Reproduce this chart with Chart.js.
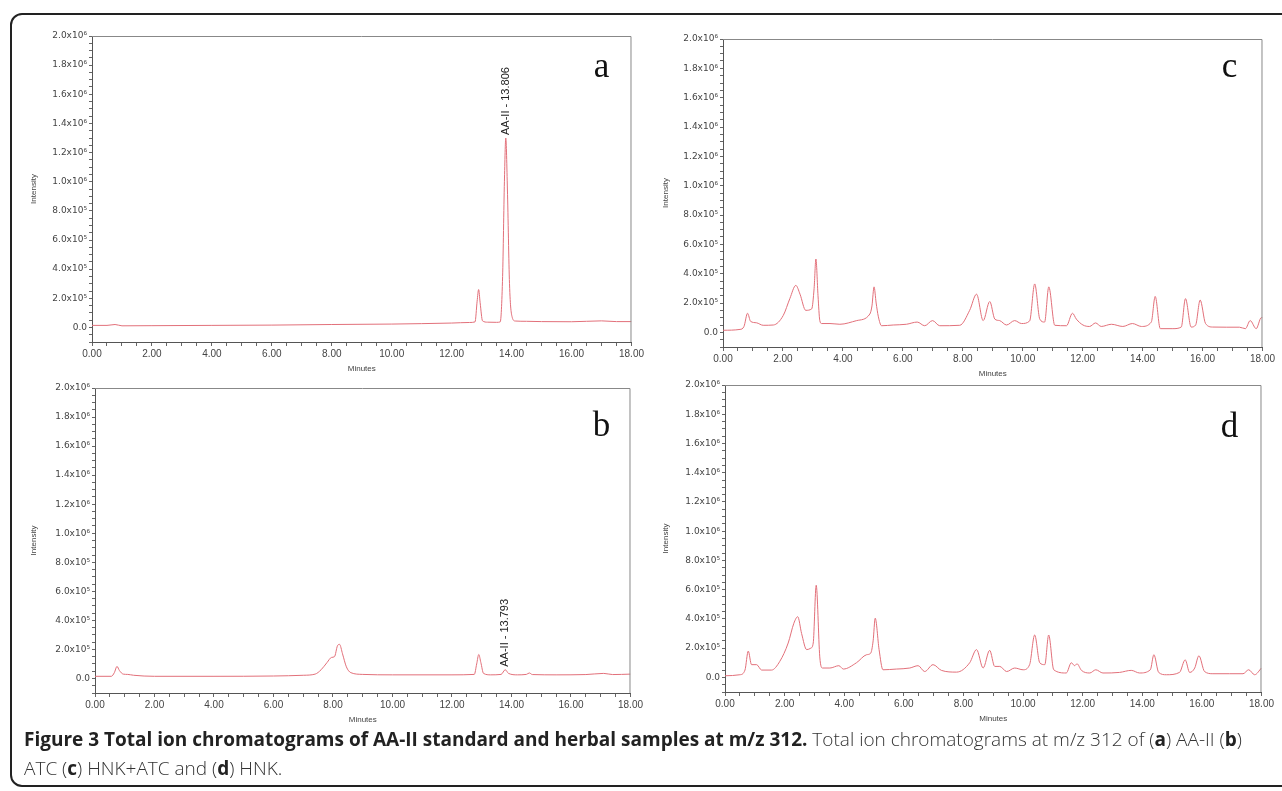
<!DOCTYPE html>
<html>
<head>
<meta charset="utf-8">
<script src="https://cdn.jsdelivr.net/npm/chart.js@4.4.0/dist/chart.umd.min.js"></script>
<style>
  html, body { margin: 0; padding: 0; background: #fff; overflow: hidden; }
  #page { position: relative; width: 1282px; height: 791px; overflow: hidden; }
  #frame {
    position: absolute; left: 10px; top: 13px; width: 1300px; height: 774px;
    border: 2px solid #222; border-radius: 12px; box-sizing: border-box;
  }
  canvas { position: absolute; }
  #caption {
    position: absolute; left: 24px; top: 725px;
    font-family: "Open Sans", sans-serif; font-size: 19px; line-height: 29px;
    color: #333; font-weight: 300; white-space: nowrap;
  }
  #caption b { font-weight: 700; color: #222; }
</style>
</head>
<body>
<div id="page">
  <div id="frame"></div>
  <canvas id="chartA" style="left:12px;top:20px;width:634px;height:356px"></canvas>
  <canvas id="chartB" style="left:12px;top:375px;width:633px;height:352px"></canvas>
  <canvas id="chartC" style="left:648px;top:20px;width:629px;height:361px"></canvas>
  <canvas id="chartD" style="left:648px;top:372px;width:628px;height:354px"></canvas>
  <div id="caption"><b>Figure 3 Total ion chromatograms of AA-II standard and herbal samples at m/z 312.</b> Total ion chromatograms at m/z 312 of (<b>a</b>) AA-II (<b>b</b>)<br>ATC (<b>c</b>) HNK+ATC and (<b>d</b>) HNK.</div>
</div>
<script>
// retention time (min) and intensity
const timeA = [0, 0.5, 0.77, 1.0, 2, 4, 6, 8, 10, 11, 12, 12.6, 12.78, 12.85, 12.9, 12.95, 13.03, 13.2, 13.5, 13.62, 13.7, 13.76, 13.806, 13.86, 13.93, 14.02, 14.12, 14.5, 15, 16, 17, 17.5, 18];
const intensityA = [14000, 14000, 20000, 11000, 12000, 14000, 16000, 20000, 23000, 26000, 30000, 34000, 38000, 180000, 260000, 170000, 45000, 36000, 35000, 38000, 350000, 1000000, 1300000, 950000, 300000, 70000, 44000, 42000, 40000, 39000, 45000, 40000, 40000];

const timeB = [0, 0.55, 0.65, 0.74, 0.82, 0.95, 1.1, 1.3, 2, 4, 6, 7.0, 7.4, 7.6, 7.8, 7.95, 8.05, 8.15, 8.22, 8.32, 8.45, 8.6, 9, 10, 12, 12.75, 12.83, 12.9, 12.97, 13.06, 13.3, 13.65, 13.79, 13.9, 14.2, 14.5, 14.6, 14.7, 15.5, 16.5, 17.1, 17.4, 18];
const intensityB = [15000, 15000, 40000, 83000, 55000, 30000, 28000, 22000, 15000, 15000, 17000, 22000, 30000, 60000, 110000, 145000, 150000, 225000, 235000, 170000, 80000, 40000, 28000, 25000, 25000, 28000, 100000, 165000, 110000, 35000, 25000, 28000, 60000, 35000, 25000, 28000, 38000, 27000, 25000, 27000, 35000, 27000, 30000];

const timeC = [0, 0.57, 0.7, 0.82, 0.92, 1.12, 1.34, 1.68, 2.01, 2.23, 2.43, 2.57, 2.76, 2.96, 3.04, 3.1, 3.17, 3.23, 3.29, 3.57, 3.9, 4.46, 4.9, 4.97, 5.04, 5.11, 5.18, 5.29, 5.68, 6.12, 6.48, 6.73, 6.99, 7.23, 7.9, 8.23, 8.46, 8.68, 8.9, 9.07, 9.23, 9.46, 9.73, 9.96, 10.23, 10.4, 10.57, 10.73, 10.87, 11.07, 11.46, 11.66, 11.79, 12.01, 12.23, 12.43, 12.62, 12.96, 13.34, 13.66, 13.96, 14.29, 14.42, 14.59, 15.01, 15.29, 15.43, 15.62, 15.77, 15.92, 16.1, 16.34, 16.79, 17.23, 17.43, 17.59, 17.79, 17.96, 18];
const intensityC = [14000, 20000, 40000, 130000, 75000, 65000, 48000, 50000, 115000, 230000, 320000, 260000, 150000, 160000, 300000, 500000, 250000, 80000, 60000, 60000, 55000, 80000, 125000, 180000, 310000, 200000, 110000, 45000, 50000, 55000, 70000, 45000, 80000, 45000, 48000, 150000, 260000, 80000, 210000, 90000, 80000, 50000, 80000, 60000, 77000, 330000, 90000, 70000, 310000, 48000, 45000, 130000, 90000, 50000, 40000, 64000, 40000, 55000, 40000, 60000, 40000, 70000, 245000, 25000, 25000, 36000, 230000, 36000, 50000, 220000, 60000, 36000, 35000, 35000, 25000, 80000, 25000, 100000, 100000];

const timeD = [0, 0.5, 0.67, 0.78, 0.89, 1.06, 1.23, 1.56, 1.84, 2.12, 2.31, 2.44, 2.57, 2.74, 2.88, 2.96, 3.06, 3.18, 3.27, 3.52, 3.82, 3.97, 4.41, 4.75, 4.89, 4.97, 5.04, 5.17, 5.3, 5.75, 6.2, 6.48, 6.7, 6.98, 7.26, 7.77, 8.21, 8.44, 8.66, 8.88, 9.05, 9.22, 9.45, 9.72, 10.0, 10.22, 10.39, 10.56, 10.73, 10.86, 11.03, 11.45, 11.62, 11.73, 11.81, 11.96, 12.24, 12.44, 12.68, 13.24, 13.63, 13.91, 14.27, 14.39, 14.55, 14.81, 15.25, 15.44, 15.59, 15.76, 15.9, 16.09, 16.37, 16.93, 17.38, 17.57, 17.77, 18];
const intensityD = [11000, 18000, 50000, 180000, 87000, 87000, 50000, 50000, 110000, 235000, 370000, 415000, 300000, 190000, 200000, 235000, 630000, 140000, 64000, 64000, 80000, 57000, 100000, 155000, 166000, 250000, 405000, 190000, 52000, 57000, 64000, 80000, 40000, 87000, 48000, 36000, 100000, 190000, 64000, 185000, 75000, 75000, 40000, 64000, 52000, 87000, 290000, 100000, 87000, 290000, 52000, 30000, 100000, 80000, 93000, 48000, 30000, 52000, 30000, 34000, 48000, 30000, 52000, 155000, 34000, 18000, 34000, 120000, 34000, 64000, 148000, 40000, 25000, 25000, 25000, 52000, 18000, 64000];

const peakA = { time: 13.806, intensity: 1300000, text: 'AA-II - 13.806' };
const peakB = { time: 13.793, intensity: 60000, text: 'AA-II - 13.793' };

const yMin = -100000, yMax = 2000000;
const xMin = 0, xMax = 18;

const lineColor = 'rgb(226,112,122)';
const axisFont = { family: 'Liberation Sans, Arial, sans-serif', size: 10 };
const yTickFont = { family: 'DejaVu Sans, sans-serif', size: 9 };

const sup = { 5: '\u2075', 6: '\u2076' };
function intensityLabel(v) {
  const r = Math.round(v / 1000) * 1000;
  if (r === 0) return '0.0';
  if (r < 0 || r % 200000 !== 0) return '';
  const e = r >= 1000000 ? 6 : 5;
  return (r / Math.pow(10, e)).toFixed(1) + 'x10' + sup[e];
}
function minuteLabel(v) {
  return Math.abs(v / 2 - Math.round(v / 2)) < 1e-6 ? v.toFixed(2) : '';
}

// top/right frame of the plot, peak label and panel letter
const decorPlugin = {
  id: 'decor',
  afterDatasetsDraw(chart, args, opts) {
    const { ctx, chartArea, scales } = chart;
    ctx.save();
    ctx.strokeStyle = '#888';
    ctx.lineWidth = 1;
    ctx.beginPath();
    ctx.moveTo(chartArea.left, chartArea.top + 0.5);
    ctx.lineTo(chartArea.right - 0.5, chartArea.top + 0.5);
    ctx.lineTo(chartArea.right - 0.5, chartArea.bottom);
    ctx.stroke();

    if (opts.peak) {
      const px = scales.x.getPixelForValue(opts.peak.time);
      const py = scales.y.getPixelForValue(opts.peak.intensity);
      ctx.translate(px, py - 3);
      ctx.rotate(-Math.PI / 2);
      ctx.fillStyle = '#222';
      ctx.font = '11px "Liberation Sans", Arial, sans-serif';
      ctx.textAlign = 'left';
      ctx.textBaseline = 'middle';
      ctx.fillText(opts.peak.text, 0, 0);
      ctx.setTransform(1, 0, 0, 1, 0, 0);
    }
    ctx.restore();
    ctx.save();
    ctx.fillStyle = '#111';
    ctx.font = '35px "Liberation Serif", "Times New Roman", serif';
    ctx.textAlign = 'center';
    ctx.textBaseline = 'alphabetic';
    ctx.fillText(opts.letter, chartArea.right - opts.letterDx, chartArea.top + opts.letterDy);
    ctx.restore();
  }
};

function makeChart(id, times, values, cfg) {
  const points = times.map((t, i) => ({ x: t, y: values[i] }));
  return new Chart(document.getElementById(id), {
    type: 'line',
    data: {
      datasets: [{
        data: points,
        borderColor: lineColor,
        borderWidth: 1,
        pointRadius: 0,
        cubicInterpolationMode: 'monotone',
        fill: false
      }]
    },
    plugins: [decorPlugin],
    options: {
      responsive: false,
      animation: false,
      layout: { padding: { left: 0, right: 14, top: cfg.padTop, bottom: 0 } },
      plugins: {
        legend: { display: false },
        tooltip: { enabled: false },
        decor: { peak: cfg.peak, letter: cfg.letter, letterDx: cfg.letterDx, letterDy: cfg.letterDy }
      },
      scales: {
        x: {
          type: 'linear',
          min: xMin,
          max: xMax,
          afterFit(scale) { scale.height = 34; },
          border: { color: '#555', width: 1 },
          grid: { drawOnChartArea: false, tickLength: 4, color: '#666' },
          ticks: {
            stepSize: 0.5, autoSkip: false, maxRotation: 0, padding: 2,
            color: '#444', font: axisFont, callback: minuteLabel
          },
          title: {
            display: true, text: 'Minutes', color: '#444',
            font: { family: axisFont.family, size: 8 }, padding: { top: 0, bottom: 2 }
          }
        },
        y: {
          type: 'linear',
          min: yMin,
          max: yMax,
          afterFit(scale) { scale.width = cfg.yWidth; },
          border: { color: '#555', width: 1 },
          grid: { drawOnChartArea: false, tickLength: 3, color: '#666' },
          ticks: {
            stepSize: 50000, autoSkip: false, padding: 2,
            color: '#444', font: yTickFont, callback: intensityLabel
          },
          title: {
            display: true, text: 'Intensity', color: '#444',
            font: { family: axisFont.family, size: 8 }, padding: { top: cfg.titlePad, bottom: 0 }
          }
        }
      }
    }
  });
}

makeChart('chartA', timeA, intensityA, { padTop: 16, yWidth: 80, titlePad: 17, peak: peakA, letter: 'a', letterDx: 30, letterDy: 41 });
makeChart('chartB', timeB, intensityB, { padTop: 13, yWidth: 83, titlePad: 17, peak: peakB, letter: 'b', letterDx: 29, letterDy: 48 });
makeChart('chartC', timeC, intensityC, { padTop: 19, yWidth: 75, titlePad: 13, peak: null, letter: 'c', letterDx: 33, letterDy: 38 });
makeChart('chartD', timeD, intensityD, { padTop: 13, yWidth: 77, titlePad: 13, peak: null, letter: 'd', letterDx: 32, letterDy: 52 });
</script>
</body>
</html>
